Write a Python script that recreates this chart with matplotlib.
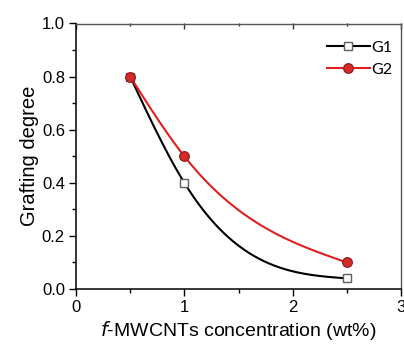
import numpy as np
import matplotlib
matplotlib.use("Agg")
import matplotlib.pyplot as plt
from matplotlib.ticker import MultipleLocator

# data
conc = [0.5, 1.0, 2.5]
g1 = [0.80, 0.40, 0.04]
g2 = [0.80, 0.50, 0.10]


def spline(x, y, xs):
    # natural cubic spline, like Origin's "Spline" connect
    x = np.asarray(x, float)
    y = np.asarray(y, float)
    n = len(x)
    h = np.diff(x)
    A = np.zeros((n, n))
    b = np.zeros(n)
    A[0, 0] = A[-1, -1] = 1.0
    for i in range(1, n - 1):
        A[i, i - 1] = h[i - 1]
        A[i, i] = 2 * (h[i - 1] + h[i])
        A[i, i + 1] = h[i]
        b[i] = 6 * ((y[i + 1] - y[i]) / h[i] - (y[i] - y[i - 1]) / h[i - 1])
    M = np.linalg.solve(A, b)
    k = np.clip(np.searchsorted(x, xs, side="right") - 1, 0, n - 2)
    hk = h[k]
    a = x[k + 1] - xs
    c = xs - x[k]
    return (M[k] * a**3 / (6 * hk) + M[k + 1] * c**3 / (6 * hk)
            + (y[k] / hk - M[k] * hk / 6) * a + (y[k + 1] / hk - M[k + 1] * hk / 6) * c)


plt.rcParams["font.family"] = ["Liberation Sans", "DejaVu Sans"]

fig = plt.figure(figsize=(4.04, 3.46), dpi=100)
ax = fig.add_axes([76 / 404, 1 - 289 / 346, 325 / 404, 265.5 / 346])

xs = np.linspace(conc[0], conc[-1], 300)
red = "#e02020"

ax.plot(xs, spline(conc, g1, xs), color="black", lw=1.5, zorder=2)
ax.plot(conc, g1, ls="none", marker="s", ms=6, mfc="white", mec="#606060", mew=1.0, zorder=3)
ax.plot(xs, spline(conc, g2, xs), color=red, lw=1.5, zorder=2)
ax.plot(conc, g2, ls="none", marker="o", ms=7, mfc="#d42a2a", mec="#8a1a1a", mew=0.8, zorder=3)

# legend proxies
h1, = ax.plot([], [], color="black", lw=1.5, marker="s", ms=6, mfc="white", mec="#606060", mew=1.0)
h2, = ax.plot([], [], color=red, lw=1.5, marker="o", ms=7, mfc="#d42a2a", mec="#8a1a1a", mew=0.8)
ax.legend([h1, h2], ["G1", "G2"], loc="upper right", frameon=False,
          bbox_to_anchor=(1.018, 0.99), handlelength=2.7, handletextpad=0.1,
          labelspacing=0.5, prop={"family": "Lato", "size": 11.5})

ax.set_xlim(0, 3)
ax.set_ylim(0, 1.0)
ax.xaxis.set_major_locator(MultipleLocator(1))
ax.xaxis.set_minor_locator(MultipleLocator(0.5))
ax.yaxis.set_major_locator(MultipleLocator(0.2))
ax.yaxis.set_minor_locator(MultipleLocator(0.1))
ax.yaxis.set_major_formatter(plt.FormatStrFormatter("%.1f"))

ax.tick_params(which="major", direction="out", length=5, width=1, labelsize=12, pad=3)
ax.tick_params(which="minor", direction="out", length=3, width=1)
for s in ["left", "bottom"]:
    ax.spines[s].set_linewidth(1.1)
for s in ["top", "right"]:
    ax.spines[s].set_color("#555555")
    ax.spines[s].set_linewidth(1.0)

# inward ticks mirrored on the top axis
top = ax.secondary_xaxis("top")
top.set_xticks([0, 1, 2, 3])
top.xaxis.set_minor_locator(MultipleLocator(0.5))
top.tick_params(which="major", direction="in", length=4, width=1, labeltop=False, color="#333333")
top.tick_params(which="minor", direction="in", length=2.5, width=1, color="#333333")
top.spines["top"].set_visible(False)

ax.set_xlabel(r"$\it{f}$-MWCNTs concentration (wt%)", fontsize=14, labelpad=3)
ax.set_ylabel("Grafting degree", fontsize=14.5, labelpad=2)

fig.savefig("out.png", dpi=100)
